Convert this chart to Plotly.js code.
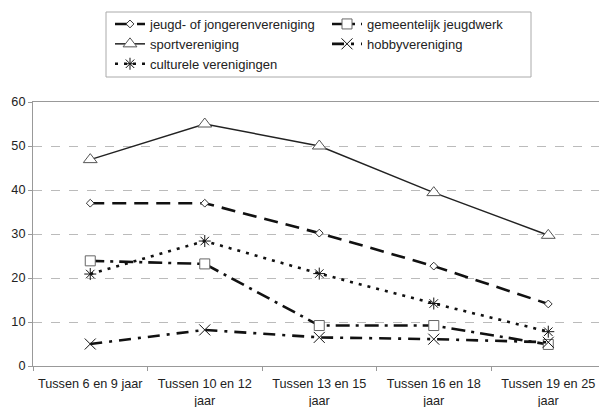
<!DOCTYPE html>
<html>
<head>
<meta charset="utf-8">
<script src="https://cdn.plot.ly/plotly-3.0.1.min.js"></script>
<style>html,body{margin:0;padding:0;background:#fff;}#chart{width:599px;height:407px;}</style>
</head>
<body>
<div id="chart"></div>
<script>
const categories = ["Tussen 6 en 9 jaar", "Tussen 10 en 12<br>jaar", "Tussen 13 en 15<br>jaar", "Tussen 16 en 18<br>jaar", "Tussen 19 en 25<br>jaar"];
const jeugd = [37, 37, 30.2, 22.7, 14.1];
const gemeentelijk = [23.9, 23.2, 9.2, 9.2, 4.9];
const sport = [46.9, 55, 50, 39.4, 29.7];
const hobby = [5.0, 8.2, 6.5, 6.1, 5.4];
const culturele = [20.9, 28.4, 21.0, 14.2, 7.8];
const names = ["jeugd- of jongerenvereniging", "gemeentelijk jeugdwerk", "sportvereniging", "hobbyvereniging", "culturele verenigingen"];

const tickFont = {family: "Liberation Sans, Arial, sans-serif", size: 12.7, color: "#222"};
const legendFont = {family: "Liberation Sans, Arial, sans-serif", size: 13, color: "#222"};

const traces = [
  {x: categories, y: jeugd, name: names[0], mode: "lines+markers", legend: "legend", legendrank: 1,
   line: {color: "#111", width: 2.6, dash: "14px,8px"},
   marker: {symbol: "diamond", size: 6, color: "#fff", line: {color: "#333", width: 1}}},
  {x: categories, y: sport, name: names[2], mode: "lines+markers", legend: "legend", legendrank: 2,
   line: {color: "#222", width: 1.5},
   marker: {symbol: "triangle-up", size: 12, color: "#fff", line: {color: "#555", width: 1}}},
  {x: categories, y: culturele, name: names[4], mode: "lines+markers", legend: "legend", legendrank: 3,
   line: {color: "#111", width: 2.6, dash: "3px,6px"},
   marker: {symbol: "asterisk-open", size: 10, line: {color: "#444", width: 1}}},
  {x: categories, y: gemeentelijk, name: names[1], mode: "lines+markers", legend: "legend2", legendrank: 1,
   line: {color: "#111", width: 2.6, dash: "14px,6px,3px,6px"},
   marker: {symbol: "square", size: 10, color: "#fff", line: {color: "#666", width: 1}}},
  {x: categories, y: hobby, name: names[3], mode: "lines+markers", legend: "legend2", legendrank: 2,
   line: {color: "#111", width: 2.6, dash: "12px,7px,3px,7px"},
   marker: {symbol: "x-thin-open", size: 11, line: {color: "#444", width: 1}}}
];

const layout = {
  width: 599, height: 407,
  margin: {l: 33, r: 0, t: 102, b: 41, pad: 0, autoexpand: false},
  paper_bgcolor: "#fff", plot_bgcolor: "#fff",
  font: tickFont,
  showlegend: true,
  xaxis: {
    type: "category", range: [-0.5, 4.443],
    showline: true, linecolor: "#999", linewidth: 1, mirror: true,
    showgrid: false, zeroline: false,
    ticks: "outside", ticklen: 4, tickcolor: "#999", tickson: "boundaries",
    tickangle: 0, tickfont: tickFont, ticklabelstandoff: 6, automargin: false
  },
  yaxis: {
    range: [0, 60], tickvals: [0, 10, 20, 30, 40, 50, 60],
    showline: true, linecolor: "#999", linewidth: 1,
    showgrid: true, gridcolor: "#bbb", griddash: "dash", gridwidth: 1,
    zeroline: false, ticks: "outside", ticklen: 4, tickcolor: "#999",
    tickfont: tickFont, automargin: false
  },
  legend: {
    xref: "container", yref: "container", x: 110/599, y: 1 - 9/407, xanchor: "left", yanchor: "top",
    bgcolor: "rgba(0,0,0,0)", borderwidth: 0, font: legendFont, tracegroupgap: 0, traceorder: "normal"
  },
  legend2: {
    xref: "container", yref: "container", x: 327/599, y: 1 - 9/407, xanchor: "left", yanchor: "top",
    bgcolor: "rgba(0,0,0,0)", borderwidth: 0, font: legendFont, tracegroupgap: 0, traceorder: "normal"
  },
  shapes: [{
    type: "rect", xref: "paper", yref: "paper",
    x0: (106 - 33) / 566, x1: (531 - 33) / 566,
    y0: 1 + (102 - 77) / 264, y1: 1 + (102 - 12) / 264,
    line: {color: "#aaa", width: 1}, fillcolor: "rgba(0,0,0,0)"
  }]
};

Plotly.newPlot("chart", traces, layout, {staticPlot: true, displayModeBar: false});
</script>
</body>
</html>
